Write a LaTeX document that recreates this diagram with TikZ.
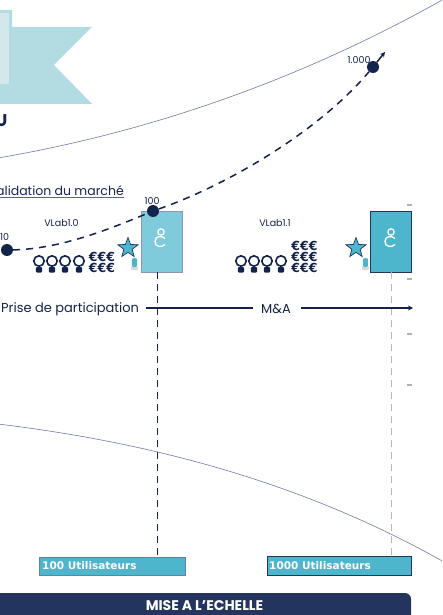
\documentclass[tikz,border=0pt]{standalone}
\usepackage{fontspec}
\setmainfont{Poppins}
\newfontfamily\boldui{DejaVu Sans}
\usetikzlibrary{shapes.geometric,arrows.meta}
\definecolor{navy}{HTML}{14234B}
\definecolor{barblue}{HTML}{23355F}
\definecolor{tealA}{HTML}{7FCBDB}
\definecolor{tealB}{HTML}{4DB6CD}
\definecolor{ribbon}{HTML}{B3DBE2}
\definecolor{ribbonlight}{HTML}{D4E8EC}
\definecolor{curveblue}{HTML}{6E7BA6}
\tikzset{
  lbl/.style={inner sep=0pt,text=navy,font=\fontsize{9.5}{10}\selectfont},
  bigtxt/.style={inner sep=0pt,text=navy,font=\fontsize{13}{15}\selectfont},
  dot/.style={circle,fill=navy,inner sep=0pt,minimum size=12pt},
  userbox/.style={draw=#1,line width=0.8pt,fill=tealB,minimum height=18.5pt,inner sep=0pt,anchor=north west,text=white},
  userlbl/.style={inner sep=0pt,text=white,font=\boldui\bfseries\fontsize{10.5}{12}\selectfont},
  vbox/.style={line width=0.9pt,minimum width=41pt,minimum height=61pt,inner sep=0pt,anchor=north west},
  hairline/.style={curveblue,line width=0.6pt},
  euro/.style={inner sep=0pt,text=navy,font=\boldui\bfseries\fontsize{12.5}{13}\selectfont},
  axis/.style={navy,line width=1.5pt},
  growth/.style={navy,line width=1.5pt,dash pattern=on 7pt off 6pt},
  star5/.style={star,star points=5,star point ratio=2.4,draw=#1,fill=tealB,line width=0.7pt,inner sep=0pt,minimum size=21pt},
  tick/.style={draw=none,fill=black!30,minimum width=5pt,minimum height=1.5pt,inner sep=0pt}
}
\newcommand{\personfig}[2]{%
  \draw[navy,line width=1.6pt,fill=white] (#1,#2) circle (5.2pt);
  \fill[navy,rounded corners=1pt] (#1-3.2,#2+6) rectangle (#1+3.2,#2+11.5);
}
\newcommand{\appglyph}[2]{%
  \draw[white,line width=1.2pt] (#1+1,#2-4) circle (3.2pt);
  \draw[white,line width=1.3pt] (#1+5,#2+2.5) .. controls (#1+2,#2-0.5) and (#1-5,#2-0.5) .. (#1-5,#2+5.5)
     .. controls (#1-5,#2+11.5) and (#1+2,#2+11.5) .. (#1+5,#2+8.5);
}
\newcommand{\micfig}[2]{%
  \fill[black!15,rounded corners=1pt] (#1-3.5,#2+3) rectangle (#1+3.5,#2+7);
  \fill[tealB,rounded corners=2pt] (#1-2.6,#2-5) rectangle (#1+2.6,#2+4);
}
\begin{document}
\begin{tikzpicture}[x=1pt,y=-1pt]
\useasboundingbox (0,0) rectangle (442,615);
\clip (0,0) rectangle (442,615);
% ribbon
\fill[ribbon] (-2,10) -- (12,10) -- (12,27) -- (92,27) -- (54,65) -- (92,104) -- (-2,104) -- cycle;
\fill[ribbonlight] (-2,13) rectangle (9,84);
\node[inner sep=0pt,text=navy,font=\bfseries\fontsize{17}{18}\selectfont,anchor=east] (tail) at (7.5,120.5) {U};
% hairline curves
\draw[hairline] (-2,158) .. controls (150,132) and (300,80) .. (444,-1);
\draw[hairline] (-2,424) .. controls (130,440) and (290,475) .. (444,562);
% section label
\node[inner sep=0pt,text=navy,font=\fontsize{12.5}{14}\selectfont,anchor=east] (valid) at (124,191) {Validation du marché};
\draw[navy!70,line width=0.8pt] (-2,197.5) -- (124,197.5);
% boxes
\node[vbox,draw=curveblue!80,fill=tealA] (v10) at (141,211) {};
\node[vbox,draw=barblue,fill=tealB] (v11) at (370,211) {};
\appglyph{160}{236}
\appglyph{390}{236}
% user boxes
\node[userbox=curveblue,minimum width=146pt] (u100) at (39,556.5) {};
\node[userbox=barblue,minimum width=144pt] (u1000) at (267,556) {};
\node[userlbl,anchor=west] at (42,565.5) {100 Utilisateurs};
\node[userlbl,anchor=west] at (269,565.5) {1000 Utilisateurs};
% vertical guides
\coordinate (g1) at (157,272);
\coordinate (g2) at (391,272);
\draw[navy,line width=0.7pt,dash pattern=on 7pt off 5pt] (g1) -- (g1 |- u100.north);
\draw[black!28,line width=0.7pt,dash pattern=on 7pt off 5pt] (g2) -- (g2 |- u1000.north);
% dashed growth curve
\node[dot] (p10) at (7,250) {};
\node[dot] (p100) at (153,211) {};
\node[dot] (p1000) at (373,67) {};
\coordinate (tip) at (385,52);
\draw[growth] (p10) .. controls (60,249) and (110,229) .. (p100);
\draw[growth] (p100) .. controls (230,184) and (320,130) .. (p1000);
\draw[navy,line width=1.5pt,-{Stealth[length=5pt,width=5pt]}] (p1000) -- (tip);
\node[lbl,anchor=west] at (0,237.5) {10};
\node[lbl] at (152,201.5) {100};
\node[lbl] at (359,60) {1.000};
\node[lbl] at (61.5,223) {VLab1.0};
\node[lbl] at (275,223.5) {VLab1.1};
% axis
\node[bigtxt,anchor=west] (prise) at (1,309) {Prise de participation};
\node[bigtxt] (ma) at (276,309) {M\&A};
\coordinate (axend) at (413,308);
\draw[axis] (146,308) -- (253,308);
\draw[axis,-{Stealth[length=5pt,width=5pt]}] (301,308) -- (axend);
% people and euros
\personfig{39}{261}\personfig{52}{261}\personfig{65}{261}\personfig{79}{261}
\personfig{241}{261}\personfig{254}{261}\personfig{267}{261}\personfig{281}{261}
\node[euro] at (102,257) {€€€};
\node[euro] at (102,268) {€€€};
\node[euro] at (304.5,246) {€€€};
\node[euro] at (304.5,257) {€€€};
\node[euro] at (304.5,268) {€€€};
% stars, mics
\node[star5=barblue] (s1) at (128,248) {};
\node[star5=barblue] (s2) at (356,248) {};
\micfig{134.5}{263}
\micfig{365.5}{263}
% ticks
\node[tick] at (409.5,205) {};
\node[tick] at (409.5,279) {};
\node[tick] at (409.5,334) {};
\node[tick] at (409.5,385) {};
% bar
\fill[barblue,rounded corners=6pt] (-8,593) rectangle (411,630);
\node[inner sep=0pt,text=white,font=\bfseries\fontsize{14}{16}\selectfont] (bar) at (204.5,606) {MISE A L’ECHELLE};
\end{tikzpicture}
\end{document}
